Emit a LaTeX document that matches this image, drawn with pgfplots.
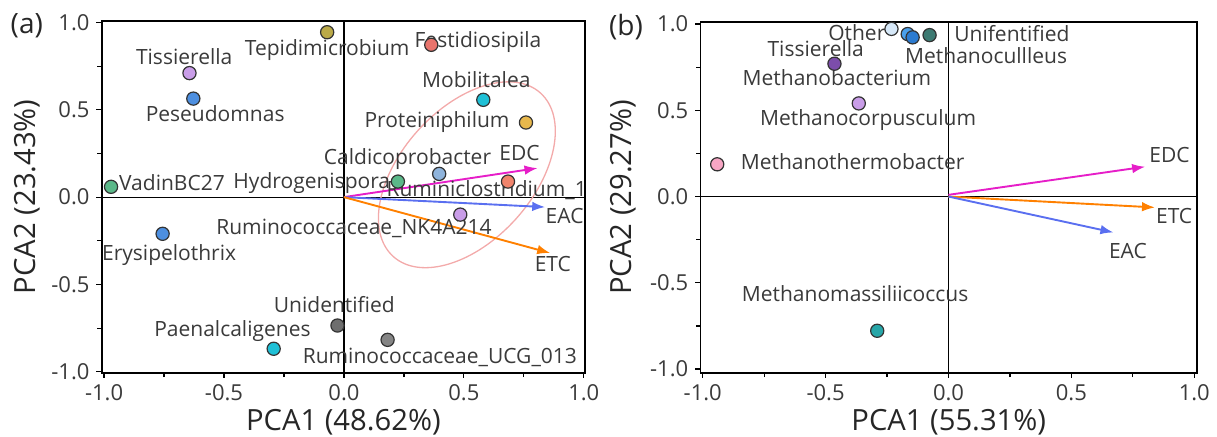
\documentclass[border=0pt]{standalone}
\usepackage{fontspec}
\setmainfont{Open Sans}
\usepackage{pgfplots}
\usepackage{pgfplotstable}
\pgfplotsset{compat=1.18}
\usetikzlibrary{arrows.meta}

% marker fills
\definecolor{edge}{HTML}{333333}
\definecolor{cTep}{HTML}{BBAA48}
\definecolor{cFes}{HTML}{E8746C}
\definecolor{cLav}{HTML}{C99DE8}
\definecolor{cBlu}{HTML}{4D8FE0}
\definecolor{cCya}{HTML}{1FC0D6}
\definecolor{cPro}{HTML}{E8B84C}
\definecolor{cCal}{HTML}{8FB4DC}
\definecolor{cGrn}{HTML}{5BB889}
\definecolor{cRum}{HTML}{F0846C}
\definecolor{cUnk}{HTML}{6E6E6E}
\definecolor{cUcg}{HTML}{858585}
\definecolor{cOth}{HTML}{D6E8F8}
\definecolor{cMb1}{HTML}{4AA0EC}
\definecolor{cMb2}{HTML}{2C7BD0}
\definecolor{cTea}{HTML}{3D7A72}
\definecolor{cDpu}{HTML}{7C4DAB}
\definecolor{cPnk}{HTML}{F7A6C4}
\definecolor{cMms}{HTML}{27A6A8}
% vectors and text
\definecolor{vEDC}{HTML}{E61EC8}
\definecolor{vEAC}{HTML}{5A6FF0}
\definecolor{vETC}{HTML}{FF8000}
\definecolor{ring}{HTML}{F3AAAA}
\definecolor{txt}{HTML}{3A3A3A}

% PCA scores, panel (a)
\pgfplotstableread{
x y c
-0.070 0.944 tep
0.364 0.872 fes
-0.644 0.710 lav
-0.628 0.564 blu
0.581 0.557 cya
0.759 0.427 pro
0.397 0.133 cal
0.225 0.089 grn
0.684 0.089 rum
-0.971 0.059 grn
0.485 -0.100 lav
-0.756 -0.210 blu
-0.027 -0.735 unk
0.182 -0.817 ucg
-0.293 -0.868 cya
}\ptsA

% PCA scores, panel (b)
\pgfplotstableread{
x y c
-0.232 0.972 oth
-0.166 0.942 mb1
-0.146 0.923 mb2
-0.077 0.936 tea
-0.464 0.770 dpu
-0.365 0.540 lav
-0.941 0.187 pnk
-0.290 -0.778 mms
}\ptsB

\tikzset{
  pt/.style={mark=*, draw=edge, line width=0.6pt, fill=#1},
  lab/.style={font=\fontsize{10.5}{12}\selectfont, text=txt, inner sep=0pt, anchor=mid},
}

\pgfplotsset{
  pcabase/.style={
    scale only axis,
    xmin=-1.01, xmax=1.005, ymin=-1.005, ymax=1.01,
    xtick={-1,-0.5,0,0.5,1}, ytick={-1,-0.5,0,0.5,1},
    minor tick num=1,
    tick pos=left, tick align=outside,
    major tick length=2.6pt, minor tick length=2.2pt,
    tick style={black, line width=0.6pt},
    axis line style={black, line width=0.9pt},
    ticklabel style={font=\fontsize{11}{13}\selectfont, text=txt},
    /pgf/number format/assume math mode=true,
    xticklabel style={/pgf/number format/.cd, fixed, fixed zerofill, precision=1},
    yticklabel style={/pgf/number format/.cd, fixed, fixed zerofill, precision=1},
    label style={font=\fontsize{14.6}{17}\selectfont, text=black!85},
    xlabel style={at={(axis description cs:0.5,-0.141)}, anchor=center},
    ylabel style={at={(axis description cs:-0.155,0.50)}, anchor=center, rotate=0},
    clip=false,
  },
  ptclasses/.style={
    scatter/classes={
      tep={pt=cTep}, fes={pt=cFes}, lav={pt=cLav}, blu={pt=cBlu},
      cya={pt=cCya}, pro={pt=cPro}, cal={pt=cCal}, grn={pt=cGrn},
      rum={pt=cRum}, unk={pt=cUnk}, ucg={pt=cUcg}, oth={pt=cOth},
      mb1={pt=cMb1}, mb2={pt=cMb2}, tea={pt=cTea}, dpu={pt=cDpu},
      pnk={pt=cPnk}, mms={pt=cMms}
    }
  },
  vec/.style={line width=0.95pt, color=#1, -{Latex[length=6.5pt,width=4.8pt]}},
}

\begin{document}
\begin{tikzpicture}
\path[use as bounding box] (0,0) rectangle (608.5pt,218.5pt);

\node[font=\fontsize{14}{16}\selectfont, text=black!85] at (13.4pt,205.8pt) {(a)};
\node[font=\fontsize{14}{16}\selectfont, text=black!85] at (313pt,205pt) {(b)};

% ---------- panel (a) ----------
\begin{axis}[pcabase,
  at={(50.85pt,32.15pt)}, anchor=south west,
  width=241.65pt, height=176pt,
  xlabel={PCA1 (48.62\%)}, ylabel={PCA2 (23.43\%)},
]
\addplot[black, line width=0.6pt, forget plot] coordinates {(0,-1.005) (0,1.01)};
\addplot[black, line width=0.6pt, forget plot] coordinates {(-1.01,0) (1.005,0)};
\draw[ring, line width=0.65pt, rotate around={48:(axis cs:0.5125,0.128)}]
  (axis cs:0.5125,0.128) ellipse [x radius=55pt, y radius=33pt];
\addplot[vec=vEDC] coordinates {(0,0) (0.807,0.166)};
\addplot[vec=vEAC] coordinates {(0,0) (0.839,-0.057)};
\addplot[vec=vETC] coordinates {(0,0) (0.860,-0.320)};
\addplot[scatter, only marks, mark size=3.3pt, ptclasses,
  scatter src=explicit symbolic] table[x=x, y=y, meta=c] {\ptsA};
\node[lab] at (axis cs:-0.070,0.843) {Tepidimicrobium};
\node[lab] at (axis cs:0.559,0.887) {Festidiosipila};
\node[lab] at (axis cs:-0.666,0.790) {Tissierella};
\node[lab] at (axis cs:-0.537,0.465) {Peseudomnas};
\node[lab] at (axis cs:0.552,0.660) {Mobilitalea};
\node[lab] at (axis cs:0.388,0.430) {Proteiniphilum};
\node[lab] at (axis cs:0.265,0.217) {Caldicoprobacter};
\node[lab] at (axis cs:0.732,0.242) {EDC};
\node[lab] at (axis cs:-0.134,0.080) {Hydrogenispora};
\node[lab, anchor=mid west] at (axis cs:-0.939,0.070) {VadinBC27};
\node[lab] at (axis cs:0.595,0.032) {Ruminiclostridium\_1};
\node[lab] at (axis cs:0.920,-0.120) {EAC};
\node[lab] at (axis cs:0.042,-0.183) {Ruminococcaceae\_NK4A214};
\node[lab] at (axis cs:-0.729,-0.330) {Erysipelothrix};
\node[lab] at (axis cs:0.871,-0.397) {ETC};
\node[lab] at (axis cs:-0.040,-0.630) {Unidentified};
\node[lab] at (axis cs:-0.465,-0.766) {Paenalcaligenes};
\node[lab] at (axis cs:0.400,-0.922) {Ruminococcaceae\_UCG\_013};
\end{axis}

% ---------- panel (b) ----------
\begin{axis}[pcabase,
  at={(350.25pt,32.15pt)}, anchor=south west,
  width=248.25pt, height=175.35pt,
  xmin=-1.009, xmax=1.011, ymin=-1.021, ymax=1.012,
  xlabel={PCA1 (55.31\%)}, ylabel={PCA2 (29.27\%)},
]
\addplot[black, line width=0.6pt, forget plot] coordinates {(0,-1.021) (0,1.012)};
\addplot[black, line width=0.6pt, forget plot] coordinates {(-1.009,0) (1.011,0)};
\addplot[vec=vEDC] coordinates {(0,0.01) (0.800,0.173)};
\addplot[vec=vETC] coordinates {(0,0) (0.840,-0.063)};
\addplot[vec=vEAC] coordinates {(0,0) (0.671,-0.208)};
\node[lab] at (axis cs:-0.373,0.936) {Other};
\node[lab] at (axis cs:0.258,0.930) {Unifentified};
\node[lab] at (axis cs:-0.540,0.843) {Tissierella};
\node[lab] at (axis cs:0.153,0.800) {Methanocullleus};
\node[lab] at (axis cs:-0.454,0.675) {Methanobacterium};
\node[lab] at (axis cs:-0.327,0.444) {Methanocorpusculum};
\node[lab] at (axis cs:-0.390,0.188) {Methanothermobacter};
\node[lab] at (axis cs:0.899,0.229) {EDC};
\node[lab] at (axis cs:0.918,-0.126) {ETC};
\node[lab] at (axis cs:0.730,-0.326) {EAC};
\node[lab] at (axis cs:-0.380,-0.580) {Methanomassiliicoccus};
\addplot[scatter, only marks, mark size=3.3pt, ptclasses,
  scatter src=explicit symbolic] table[x=x, y=y, meta=c] {\ptsB};
\end{axis}
\end{tikzpicture}
\end{document}
